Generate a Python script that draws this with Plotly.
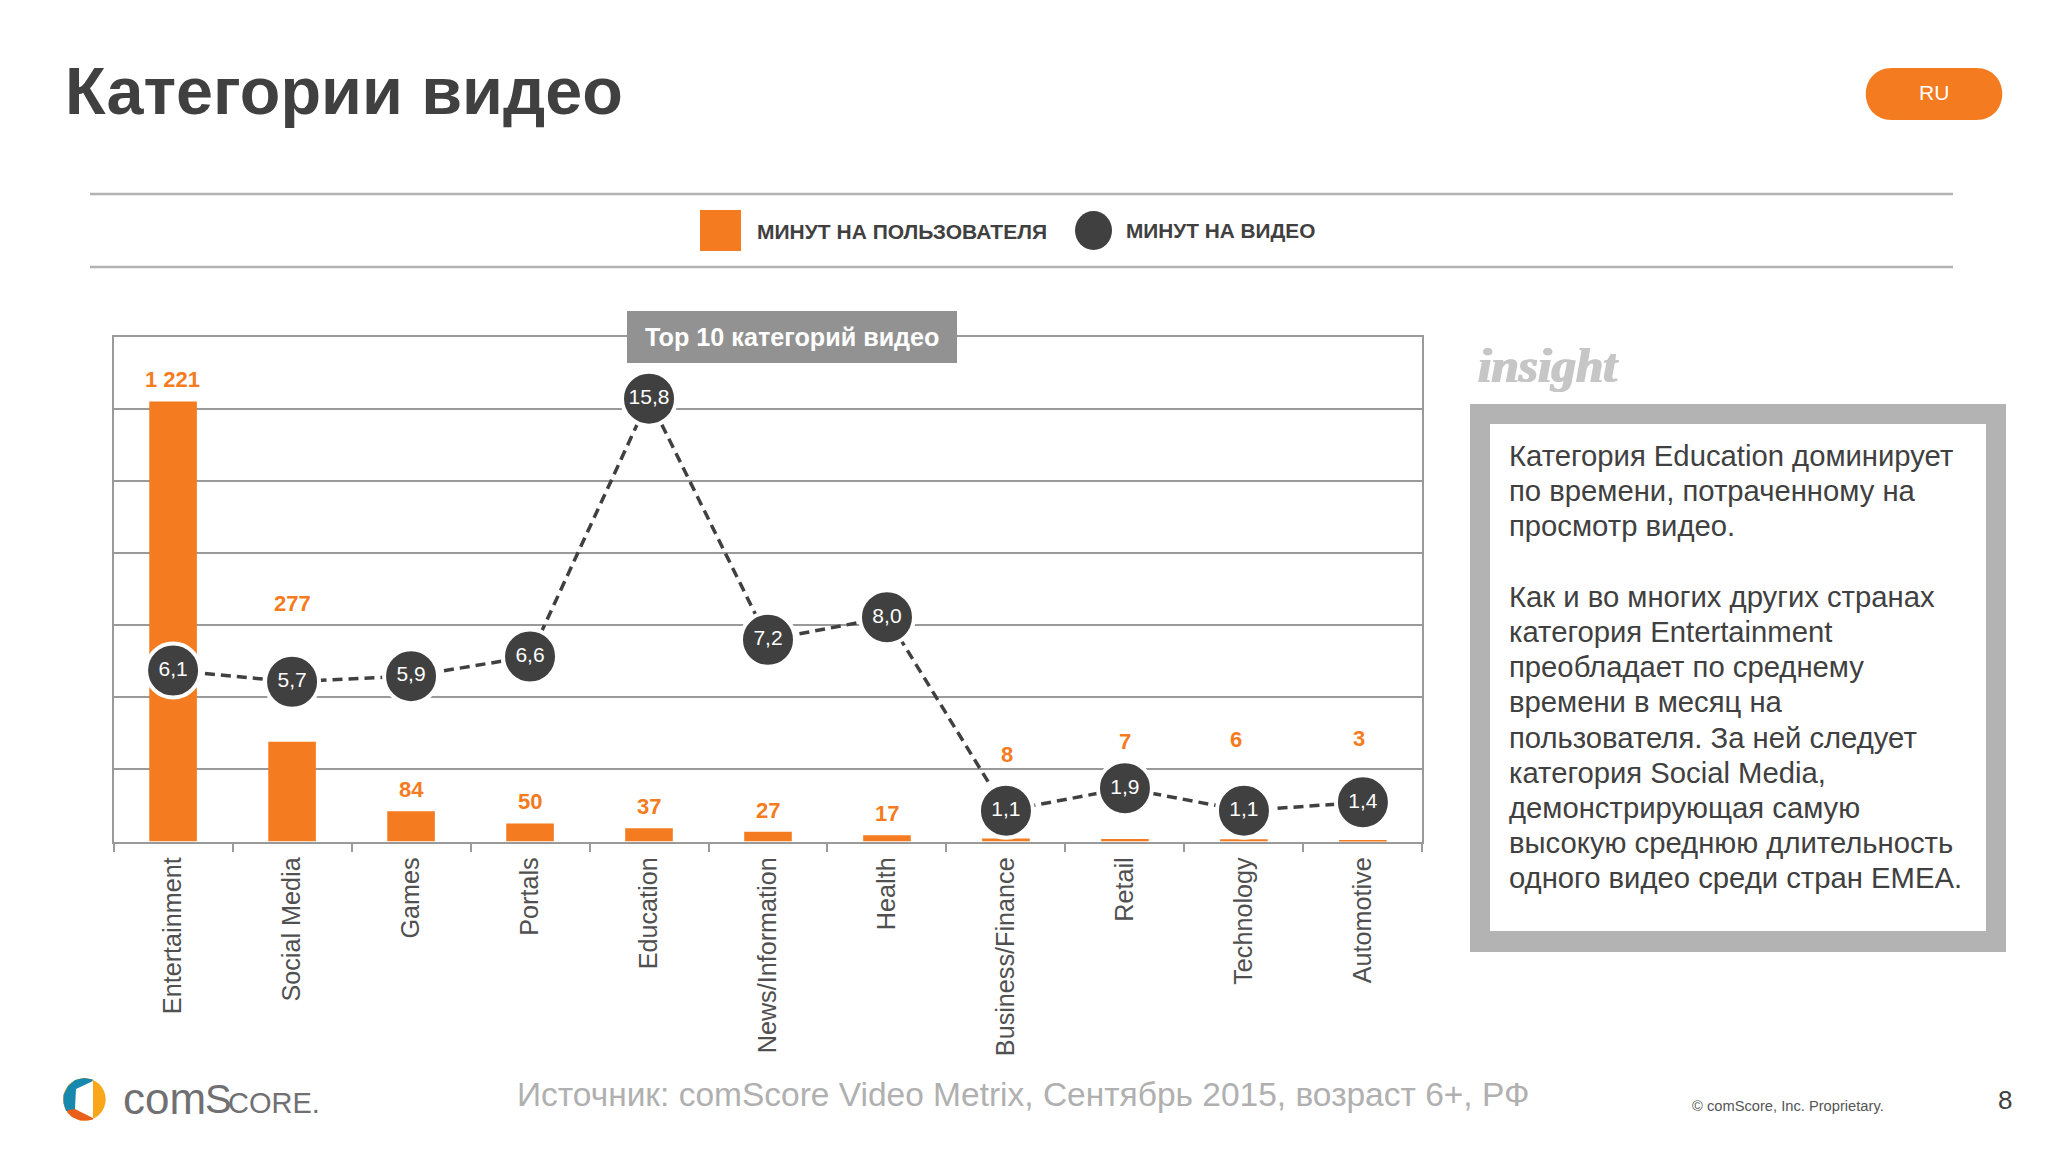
import plotly.graph_objects as go

categories = ['Entertainment', 'Social Media', 'Games', 'Portals', 'Education', 'News/Information',
              'Health', 'Business/Finance', 'Retail', 'Technology', 'Automotive']
min_per_user = [1221, 277, 84, 50, 37, 27, 17, 8, 7, 6, 3]
min_per_user_labels = ['1 221', '277', '84', '50', '37', '27', '17', '8', '7', '6', '3']
min_per_video = [6.1, 5.7, 5.9, 6.6, 15.8, 7.2, 8.0, 1.1, 1.9, 1.1, 1.4]
min_per_video_labels = ['6,1', '5,7', '5,9', '6,6', '15,8', '7,2', '8,0', '1,1', '1,9', '1,1', '1,4']

insight_lines = [
    'Категория Education доминирует',
    'по времени, потраченному на',
    'просмотр видео.',
    '',
    'Как и во многих других странах',
    'категория Entertainment',
    'преобладает по среднему',
    'времени в месяц на',
    'пользователя. За ней следует',
    'категория Social Media,',
    'демонстрирующая самую',
    'высокую среднюю длительность',
    'одного видео среди стран EMEA.',
]

ORANGE = '#F47B20'
DARK = '#404040'
GRID = '#9A9A9A'
LOGO_GREY = '#707073'
W, H = 2048, 1152
FONT = 'Liberation Sans'

# how far above the bar top each orange label sits, moved where a circle would cover it
label_lift = [22, 138, 22, 22, 22, 21, 22, 84, 97, 100, 102]
label_nudge = [-1, 0, 0, 0, 0, 0, 0, 1, 0, -8, -4]


def txt(x, y, s, size, color=DARK, bold=False, anchor='left', family=FONT, italic=False):
    if bold:
        s = '<b>' + s + '</b>'
    if italic:
        s = '<i>' + s + '</i>'
    return dict(xref='paper', yref='paper', x=x / W, y=1 - y / H, text=s, showarrow=False, xanchor=anchor,
                yanchor='middle', align=anchor, font=dict(family=family, size=size, color=color))


def rect(x0, y0, x1, y1, fill, layer='below'):
    return dict(type='rect', xref='paper', yref='paper', x0=x0 / W, x1=x1 / W, y0=1 - y0 / H, y1=1 - y1 / H,
                fillcolor=fill, line=dict(width=0), layer=layer)


def hline(x0, x1, y, color, width):
    return dict(type='line', xref='paper', yref='paper', x0=x0 / W, x1=x1 / W, y0=1 - y / H, y1=1 - y / H,
                line=dict(color=color, width=width), layer='below')


def px_path(d, fill):
    # d is a list of (x, y) pixel points
    parts = []
    for i, (x, y) in enumerate(d):
        parts.append(('M' if i == 0 else 'L') + f'{x / W:.5f},{1 - y / H:.5f}')
    return dict(type='path', xref='paper', yref='paper', path=' '.join(parts) + ' Z', fillcolor=fill,
                line=dict(width=0), layer='above')


fig = go.Figure()

fig.add_trace(go.Bar(x=categories, y=min_per_user, marker_color=ORANGE, marker_line_width=0, width=0.4,
                     yaxis='y', cliponaxis=False, hoverinfo='x+y'))
fig.add_trace(go.Scatter(x=categories, y=min_per_video, yaxis='y2', mode='lines+markers+text',
                         text=min_per_video_labels, textposition='middle center',
                         textfont=dict(family=FONT, size=21, color='white'),
                         line=dict(color=DARK, width=3.5, dash='10px,6px'),
                         marker=dict(size=54, color=DARK, line=dict(color='white', width=4)),
                         cliponaxis=False))

annotations = []
for cat, val, lab, lift, nudge in zip(categories, min_per_user, min_per_user_labels, label_lift, label_nudge):
    annotations.append(dict(x=cat, y=val, xref='x', yref='y', text='<b>' + lab + '</b>', showarrow=False,
                            yanchor='middle', yshift=lift, xshift=nudge,
                            font=dict(family=FONT, size=22, color=ORANGE)))

annotations.append(txt(63, 91, 'Категории видео', 66.5, bold=True))
annotations.append(txt(1934, 92, 'RU', 21, color='white', anchor='center'))
annotations.append(txt(755, 232, 'МИНУТ НА ПОЛЬЗОВАТЕЛЯ', 21, bold=True))
annotations.append(txt(1124, 230, 'МИНУТ НА ВИДЕО', 20.8, bold=True))
annotations.append(txt(792, 337, 'Top 10 категорий видео', 25.2, color='white', bold=True, anchor='center'))
insight_word = txt(1548, 366, 'insight', 49, color='#C6C6C6', bold=True, italic=True, anchor='center',
                   family='Liberation Serif')
insight_word['font']['shadow'] = '1px 0 0 #C6C6C6, -1px 0 0 #C6C6C6'
annotations.append(insight_word)
annotations.append(txt(514.5, 1094, 'Источник: comScore Video Metrix, Сентябрь 2015, возраст 6+, РФ', 33.5,
                       color='#B0B0B0'))
annotations.append(txt(1690, 1106, '© comScore, Inc. Proprietary.', 14.7, color='#555555'))
annotations.append(txt(2005, 1100, '8', 26, anchor='center'))
annotations.append(txt(121, 1098.5, 'com', 44, color=LOGO_GREY))
annotations.append(txt(203, 1099, 'S', 40, color=LOGO_GREY))
annotations.append(txt(226, 1103, 'CORE.', 29, color=LOGO_GREY))

for i, line in enumerate(insight_lines):
    if line:
        annotations.append(txt(1507, 456 + i * 35.2, line, 29.25))

shapes = [
    hline(90, 1953, 194, '#B2B2B2', 2.5),
    hline(90, 1953, 267, '#B2B2B2', 2.5),
    rect(700, 210, 741, 251, ORANGE),
    dict(type='circle', xref='paper', yref='paper', x0=1075 / W, x1=1112 / W, y0=1 - 250 / H, y1=1 - 211 / H,
         fillcolor=DARK, line=dict(width=0), layer='below'),
    dict(type='path', xref='paper', yref='paper',
         path=(f'M{1892 / W},{1 - 68 / H} L{1976 / W},{1 - 68 / H} '
               f'C{2011 / W},{1 - 68 / H} {2011 / W},{1 - 120 / H} {1976 / W},{1 - 120 / H} '
               f'L{1892 / W},{1 - 120 / H} '
               f'C{1857 / W},{1 - 120 / H} {1857 / W},{1 - 68 / H} {1892 / W},{1 - 68 / H} Z'),
         fillcolor=ORANGE, line=dict(width=0), layer='below'),
    rect(627, 311, 957, 363, '#929292', layer='above'),
    rect(1470, 404, 2006, 952, '#B3B3B3'),
    rect(1490, 424, 1986, 931, 'white'),
    # comScore mark
    dict(type='circle', xref='paper', yref='paper', x0=63 / W, x1=105.7 / W, y0=1 - 1120.7 / H, y1=1 - 1078 / H,
         fillcolor='#FAA61A', line=dict(width=0), layer='above'),
    px_path([(93, 1079.5), (84, 1078), (75, 1080), (68, 1086), (63.5, 1095), (63.5, 1103), (66, 1111), (76, 1111)],
            '#1788AE'),
    px_path([(67, 1112), (72, 1117), (80, 1120.5), (88, 1120.5), (93, 1119.5), (93, 1118), (75, 1109), (68, 1110)],
            '#E8601C'),
    px_path([(76, 1089), (93, 1081), (93, 1118), (75, 1109)], 'white'),
]

fig.update_layout(
    width=W, height=H,
    margin=dict(l=0, r=0, t=0, b=0),
    paper_bgcolor='white',
    plot_bgcolor='white',
    showlegend=False,
    bargap=0.6,
    annotations=annotations,
    shapes=shapes,
    font=dict(family=FONT, color=DARK),
    xaxis=dict(domain=[113.6 / W, 1422.4 / W], type='category', categoryorder='array', categoryarray=categories,
               range=[-0.5, 10.5], tickson='boundaries', ticks='outside', ticklen=9, tickcolor=GRID, tickwidth=1.5,
               tickangle=-90, tickfont=dict(family=FONT, size=25.2, color='#505050'), ticklabelstandoff=4,
               showline=True, linecolor=GRID, linewidth=1.5, showgrid=False, mirror=True),
    yaxis=dict(domain=[1 - 841.5 / H, 1 - 337 / H], range=[0, 1400], dtick=200, showticklabels=False, ticks='',
               showgrid=True, gridcolor=GRID, gridwidth=2, zeroline=False, showline=True, linecolor=GRID,
               linewidth=1.5, mirror=True),
    yaxis2=dict(domain=[1 - 846.5 / H, 1 - 341 / H], range=[0, 18], overlaying='y', side='right',
                showticklabels=False, ticks='', showgrid=False, zeroline=False),
)

fig.write_html('out.html', config={'displayModeBar': False}, post_script="document.body.style.margin='0';")
